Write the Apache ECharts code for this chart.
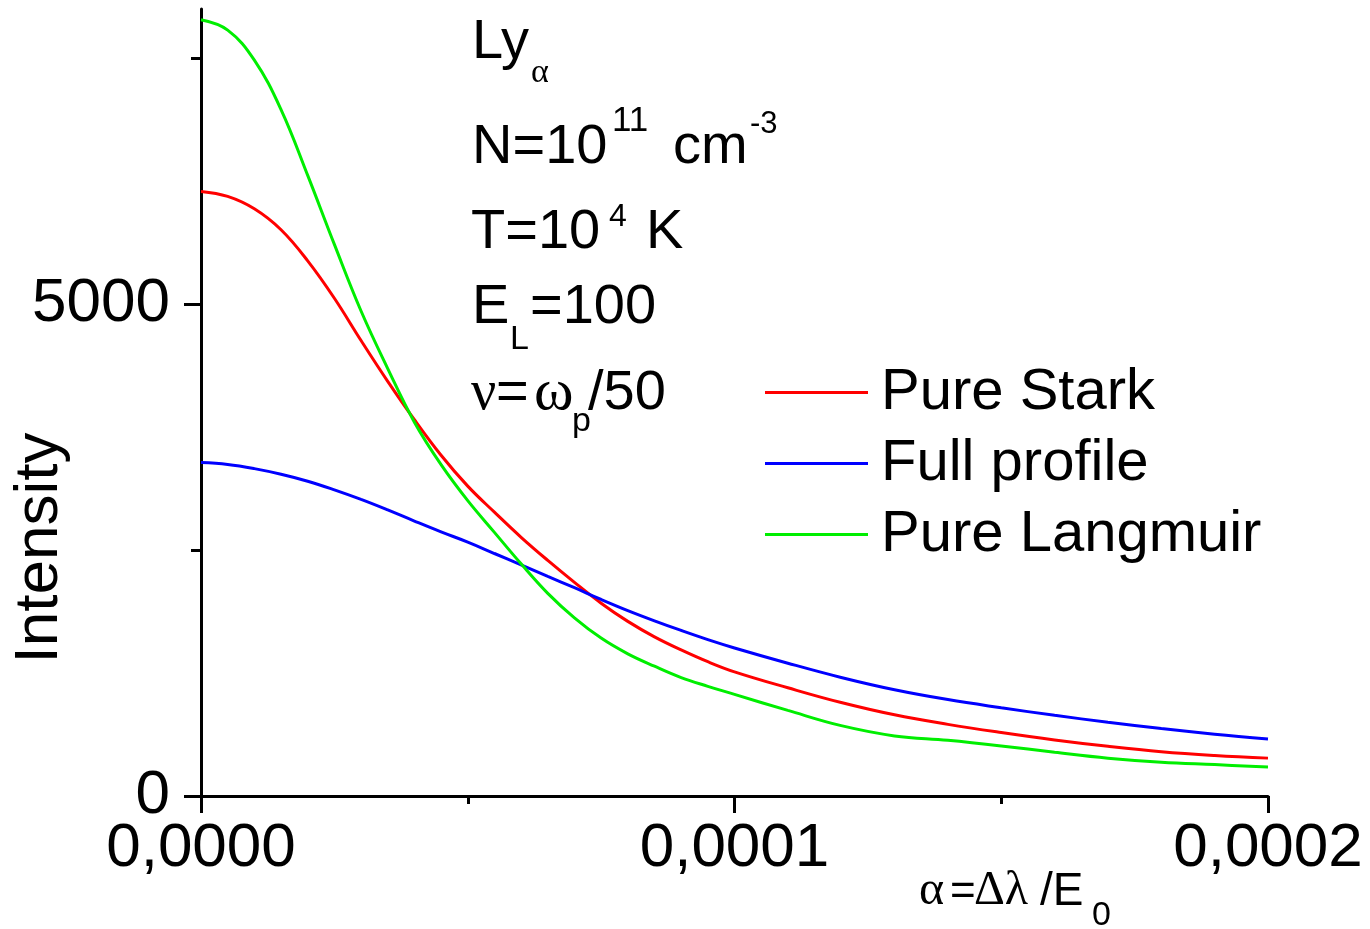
<!DOCTYPE html>
<html>
<head>
<meta charset="utf-8">
<script src="https://cdn.jsdelivr.net/npm/echarts@6/dist/echarts.min.js"></script>
<style>
html,body{margin:0;padding:0;background:#fff;}
#chart{width:1370px;height:929px;}
</style>
</head>
<body>
<div id="chart"></div>
<script>
// alpha = Δλ / E0
const alphaValues = [0, 0.000005, 0.00001, 0.000015, 0.00002, 0.000025, 0.00003, 0.000035, 0.00004, 0.000045,
  0.00005, 0.000055, 0.00006, 0.000065, 0.00007, 0.000075, 0.00008, 0.000085, 0.00009, 0.000095,
  0.0001, 0.00011, 0.00012, 0.00013, 0.00014, 0.00015, 0.00016, 0.00017, 0.00018, 0.00019, 0.0002];

const pureStark = [6146, 6095, 5969, 5756, 5440, 5060, 4630, 4215, 3825, 3464,
  3150, 2885, 2630, 2395, 2172, 1960, 1775, 1618, 1485, 1365,
  1262, 1100, 950, 825, 728, 645, 570, 505, 450, 412, 385];

const fullProfile = [3389, 3370, 3328, 3271, 3200, 3112, 3015, 2908, 2795, 2685,
  2581, 2465, 2350, 2232, 2117, 1998, 1885, 1781, 1683, 1590,
  1505, 1350, 1205, 1080, 980, 897, 820, 750, 685, 628, 580];

const pureLangmuir = [7890, 7785, 7480, 6978, 6309, 5607, 4930, 4345, 3800, 3368,
  3002, 2680, 2360, 2060, 1811, 1605, 1445, 1319, 1204, 1115,
  1033, 870, 715, 611, 566, 509, 444, 384, 343, 319, 295];

const seriesNames = ['Pure Stark', 'Full profile', 'Pure Langmuir'];
const seriesColors = ['#ff0000', '#0000ff', '#00ee00'];
const yMajorTicks = [0, 5000];
const yMinorTicks = [2500, 7500];

const SANS = "'Liberation Sans', Arial, sans-serif";
const SERIF = "'Liberation Serif', 'Times New Roman', serif";

function txt(t, x, baseline, size, fam) {
  const k = fam === SERIF ? 0.3375 : 0.3465;
  return {
    type: 'text', x: x, y: baseline - k * size, silent: true,
    style: { text: t, fontSize: size, fontFamily: fam, fill: '#000', verticalAlign: 'middle', align: 'left' }
  };
}

const annotations = [
  txt('Ly', 472, 62, 56, SANS),
  txt('α', 531, 85, 34, SERIF),
  txt('N=10', 472, 167, 56, SANS),
  txt('11', 612, 133, 35, SANS),
  txt('cm', 673, 167, 56, SANS),
  txt('-3', 750, 135, 31, SANS),
  txt('T=10', 471, 252, 56, SANS),
  txt('4', 609, 228, 32, SANS),
  txt('K', 646, 252, 56, SANS),
  txt('E', 472, 327, 56, SANS),
  txt('L', 510, 351, 34, SANS),
  txt('=100', 530, 327, 56, SANS),
  txt('ν', 471, 413, 56, SERIF),
  txt('=', 496, 413, 56, SANS),
  txt('ω', 534, 413, 60, SERIF),
  txt('p', 572, 433, 34, SANS),
  txt('/50', 588, 413, 56, SANS),
  // x-axis title
  txt('α', 919, 908, 48, SERIF),
  txt('=', 950, 908, 44, SANS),
  txt('Δλ', 974, 908, 48, SERIF),
  txt('/E', 1040, 908, 46, SANS),
  txt('0', 1092, 927, 34, SANS),
  // y-axis title
  {
    type: 'text', x: 40, y: 548, rotation: Math.PI / 2, silent: true,
    style: { text: 'Intensity', fontSize: 62, fontFamily: SANS, fill: '#000', align: 'center', verticalAlign: 'middle' }
  }
];

const chart = echarts.init(document.getElementById('chart'), null, { renderer: 'canvas' });

const axisLineStyle = { color: '#000', width: 3 };

const option = {
  backgroundColor: '#fff',
  animation: false,
  grid: { left: 201, right: 102, top: 9, bottom: 133, containLabel: false },
  legend: {
    orient: 'vertical',
    left: 765,
    top: 362,
    padding: 0,
    itemGap: 10,
    itemWidth: 103,
    itemHeight: 3,
    icon: 'rect',
    selectedMode: false,
    data: seriesNames,
    textStyle: { fontSize: 58, fontFamily: SANS, color: '#000', lineHeight: 61, padding: [0, 0, 0, 8] }
  },
  xAxis: {
    type: 'value',
    min: 0,
    max: 0.0002,
    interval: 0.0001,
    axisLine: { show: true, onZero: false, lineStyle: axisLineStyle },
    axisTick: { show: true, length: 17, lineStyle: axisLineStyle },
    minorTick: { show: true, splitNumber: 2, length: 8, lineStyle: { color: '#000', width: 3 } },
    splitLine: { show: false },
    minorSplitLine: { show: false },
    axisLabel: {
      fontSize: 62, fontFamily: SANS, color: '#000', margin: 22,
      formatter: v => v.toFixed(4).replace('.', ',')
    }
  },
  yAxis: [
    {
      type: 'value',
      min: 0,
      max: 8000,
      interval: 5000,
      axisLine: { show: true, onZero: false, lineStyle: axisLineStyle },
      axisTick: { show: true, length: 17, lineStyle: axisLineStyle, customValues: yMajorTicks },
      splitLine: { show: false },
      axisLabel: {
        fontSize: 62, fontFamily: SANS, color: '#000', margin: 31,
        customValues: yMajorTicks,
        formatter: v => (yMajorTicks.indexOf(v) >= 0 ? String(v) : '')
      }
    },
    {
      type: 'value',
      min: 0,
      max: 8000,
      position: 'left',
      axisLine: { show: false },
      axisTick: { show: true, length: 10, lineStyle: axisLineStyle, customValues: yMinorTicks },
      splitLine: { show: false },
      axisLabel: { show: false }
    }
  ],
  series: [
    { name: seriesNames[0], data: pureStark },
    { name: seriesNames[1], data: fullProfile },
    { name: seriesNames[2], data: pureLangmuir }
  ].map((s, i) => ({
    name: s.name,
    type: 'line',
    yAxisIndex: 0,
    showSymbol: false,
    smooth: 0.4,
    color: seriesColors[i],
    lineStyle: { width: 3, color: seriesColors[i] },
    itemStyle: { color: seriesColors[i] },
    data: alphaValues.map((x, j) => [x, s.data[j]])
  })),
  graphic: annotations
};

chart.setOption(option);
</script>
</body>
</html>
